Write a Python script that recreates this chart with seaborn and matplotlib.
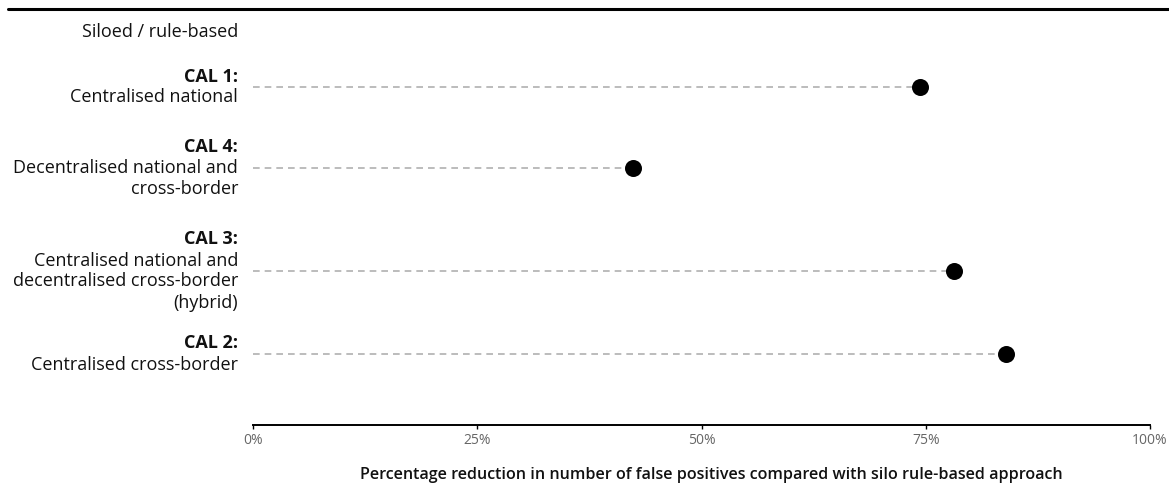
import numpy as np
import matplotlib
matplotlib.use("Agg")
import matplotlib.pyplot as plt
import matplotlib.transforms as mtransforms
from matplotlib.lines import Line2D
import seaborn as sns

# Data
headers = ["", "CAL 1:", "CAL 4:", "CAL 3:", "CAL 2:"]
bodies = [
    ["Siloed / rule-based"],
    ["Centralised national"],
    ["Decentralised national and", "cross-border"],
    ["Centralised national and", "decentralised cross-border", "(hybrid)"],
    ["Centralised cross-border"],
]
reduction = [np.nan, 74.4, 42.4, 78.1, 83.9]  # % fewer false positives
xticks = [0, 25, 50, 75, 100]

# layout: vertical row positions in pixel units (rows have different heights)
row_y = [32, 87, 168, 271, 354]

sns.set_theme(style="white")
plt.rcParams['font.family'] = ['Open Sans', 'DejaVu Sans']

W, H = 1169, 484
fig = plt.figure(figsize=(W / 100, H / 100), dpi=100)
ax = fig.add_axes([253 / W, (H - 425) / H, (1150 - 253) / W, (425 - 9) / H])

# dashed leader lines from 0 to each point
for y, v in zip(row_y, reduction):
    if not np.isnan(v):
        ax.hlines(y, 0, v, colors="#b0b0b0", linestyles=(0, (4, 3)), lw=1.2, zorder=1)

sns.scatterplot(x=reduction, y=row_y, ax=ax, s=150, color="black",
                edgecolor="black", linewidth=0, zorder=3, legend=False)

ax.set_xlim(0, 100)
ax.set_ylim(425, 9)
ax.set_yticks([])
ax.set_xticks(xticks)
ax.set_xticklabels([f"{t}%" for t in xticks])
ax.tick_params(axis="x", direction="out", length=3, width=1, color="black",
               labelsize=10, labelcolor="#666666", pad=3, bottom=True)
for s in ["top", "right", "left"]:
    ax.spines[s].set_visible(False)
ax.spines["bottom"].set_color("black")
ax.spines["bottom"].set_linewidth(1.4)

# axis title, placed by hand so it sits close to the bottom edge like the original
fig.text(711 / W, 5 / H,
         "Percentage reduction in number of false positives compared with silo rule-based approach",
         ha="center", va="baseline", fontsize=11.6, fontweight="semibold", color="#111111")

# category labels: bold header plus regular lines, right aligned
trans = mtransforms.blended_transform_factory(fig.transFigure, ax.transData)
line_h = 21
for y, head, body in zip(row_y, headers, bodies):
    lines = ([head] if head else []) + body
    n = len(lines)
    for i, txt in enumerate(lines):
        yy = y + (i - (n - 1) / 2) * line_h
        bold = head != "" and i == 0
        ax.text(238 / W, yy, txt, transform=trans, ha="right", va="center",
                fontsize=13, color="#111111",
                fontweight="bold" if bold else "normal", clip_on=False)

# heavy rule across the top
fig.add_artist(Line2D([8 / W, 1.0], [1 - 9 / H, 1 - 9 / H], color="black", lw=2.2))

fig.savefig("out.png", dpi=100)
